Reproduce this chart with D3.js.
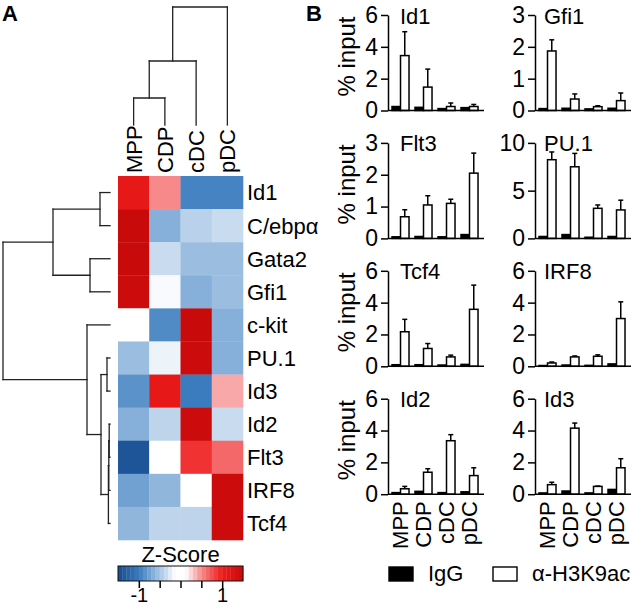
<!DOCTYPE html>
<html>
<head>
<meta charset="utf-8">
<script src="https://cdn.jsdelivr.net/npm/d3@7"></script>
<style>
  body { margin: 0; background: #fff; }
  svg { font-family: "Liberation Sans", Arial, sans-serif; }
</style>
</head>
<body>
<svg id="fig" width="633" height="608"></svg>
<script>
// ---- panel A data ----
const cells = ['MPP', 'CDP', 'cDC', 'pDC'];
const genes = ['Id1', 'C/ebpα', 'Gata2', 'Gfi1', 'c-kit', 'PU.1', 'Id3', 'Id2', 'Flt3', 'IRF8', 'Tcf4'];
const zscores = [
    [1.1, 0.5, -0.95, -0.95],
    [1.5, -0.65, -0.42, -0.35],
    [1.5, -0.35, -0.55, -0.55],
    [1.45, -0.15, -0.65, -0.55],
    [0, -0.9, 1.5, -0.65],
    [-0.55, -0.2, 1.45, -0.65],
    [-0.85, 1.1, -1.0, 0.4],
    [-0.65, -0.4, 1.45, -0.35],
    [-1.4, 0, 0.9, 0.65],
    [-0.75, -0.6, 0, 1.45],
    [-0.6, -0.4, -0.4, 1.45]
];
// dendrograms: h = merge height
const rowTree = {h: 107, children: [
    {h: 57, children: [
        {h: 10, children: [{name: 'Id1'}, {name: 'C/ebpα'}]},
        {h: 20, children: [{name: 'Gata2'}, {name: 'Gfi1'}]}
    ]},
    {h: 23, children: [
        {name: 'c-kit'},
        {h: 9, children: [
            {h: 3, children: [{name: 'PU.1'}, {name: 'Id3'}]},
            {h: 1.6, children: [
                {h: 1.2, children: [{h: 0.8, children: [{name: 'Id2'}, {name: 'Flt3'}]}, {name: 'IRF8'}]},
                {name: 'Tcf4'}
            ]}
        ]}
    ]}
]};
const colTree = {h: 118, children: [
    {h: 64, children: [
        {h: 27, children: [{name: 'MPP'}, {name: 'CDP'}]},
        {name: 'cDC'}
    ]},
    {name: 'pDC'}
]};
const colorStops = [-1.5, -1, -0.5, -0.12, 0.12, 0.5, 1, 1.5];
const colorRange = ['#174b8e', '#3b7cbe', '#a6c5e4', '#ffffff', '#ffffff', '#f7898a', '#ee1c1c', '#c80a0a'];
const colorTicks = [-1, -0.5, 0, 0.5, 1];
const colorTickLabels = ['-1', '', '', '', '1'];

// ---- panel B data ----
const panels = ['Id1', 'Gfi1', 'Flt3', 'PU.1', 'Tcf4', 'IRF8', 'Id2', 'Id3'];
const yMax = [6, 3, 3, 10, 6, 6, 6, 6];
const yTicks = [[0, 2, 4, 6], [0, 1, 2, 3], [0, 1, 2, 3], [0, 5, 10], [0, 2, 4, 6], [0, 2, 4, 6], [0, 2, 4, 6], [0, 2, 4, 6]];
const series = ['IgG', 'α-H3K9ac'];
const igg = [
    [0.25, 0.2, 0.12, 0.18],
    [0.06, 0.07, 0.05, 0.07],
    [0.05, 0.06, 0.05, 0.12],
    [0.2, 0.4, 0.12, 0.2],
    [0.1, 0.1, 0.08, 0.12],
    [0.05, 0.08, 0.06, 0.15],
    [0.1, 0.18, 0.1, 0.15],
    [0.08, 0.2, 0.08, 0.3]
];
const h3k9ac = [
    [3.45, 1.47, 0.25, 0.25],
    [1.87, 0.36, 0.12, 0.31],
    [0.68, 1.05, 1.1, 2.05],
    [8.24, 7.5, 3.15, 2.98],
    [2.17, 1.12, 0.59, 3.58],
    [0.21, 0.59, 0.63, 3.0],
    [0.34, 1.38, 3.36, 1.17],
    [0.6, 4.15, 0.49, 1.66]
];
const h3k9acErr = [
    [1.5, 1.13, 0.22, 0.13],
    [0.35, 0.16, 0.03, 0.24],
    [0.22, 0.29, 0.13, 0.63],
    [0.81, 1.4, 0.35, 1.02],
    [0.78, 0.31, 0.11, 1.52],
    [0.06, 0.06, 0.09, 1.05],
    [0.15, 0.22, 0.38, 0.49],
    [0.15, 0.32, 0.02, 0.57]
];

const svg = d3.select('#fig');

// panel letters
svg.append('text').attr('x', 2).attr('y', 21).attr('font-size', 22).attr('font-weight', 'bold').text('A');
svg.append('text').attr('x', 306).attr('y', 21).attr('font-size', 22).attr('font-weight', 'bold').text('B');

// ================= heatmap =================
const xCell = d3.scaleBand().domain(cells).range([118, 243]);
const yGene = d3.scaleBand().domain(genes).range([176, 540]);
const color = d3.scaleLinear().domain(colorStops).range(colorRange);

const heat = svg.append('g');
zscores.forEach((row, i) => {
    heat.selectAll(null)
        .data(row)
        .enter()
        .append('rect')
        .attr('x', (d, j) => xCell(cells[j]))
        .attr('y', yGene(genes[i]))
        .attr('width', xCell.bandwidth() + 0.3)
        .attr('height', yGene.bandwidth() + 0.3)
        .attr('fill', d => color(d));
});

heat.selectAll('.rowlab')
    .data(genes)
    .enter()
    .append('text')
    .attr('x', 247)
    .attr('y', d => yGene(d) + yGene.bandwidth() / 2)
    .attr('dy', '0.36em')
    .attr('font-size', 22)
    .text(d => d);

heat.selectAll('.collab')
    .data(cells)
    .enter()
    .append('text')
    .attr('transform', d => `translate(${xCell(d) + xCell.bandwidth() / 2}, 173) rotate(-90)`)
    .attr('dy', '0.36em')
    .attr('font-size', 22)
    .text(d => d);

// dendrograms
function drawTree(tree, leafPos, hScale, vertical) {
    const root = d3.hierarchy(tree);
    root.eachAfter(n => {
        if (!n.children) n.pos = leafPos(n.data.name);
        else n.pos = (n.children[0].pos + n.children[n.children.length - 1].pos) / 2;
        n.hh = n.children ? n.data.h : 0;
    });
    const segs = [];
    root.each(n => {
        if (!n.children) return;
        const a = n.children[0].pos, b = n.children[n.children.length - 1].pos;
        segs.push([hScale(n.hh), a, hScale(n.hh), b]);
        n.children.forEach(c => segs.push([hScale(n.hh), c.pos, hScale(c.hh), c.pos]));
    });
    svg.append('g').selectAll('line')
        .data(segs)
        .enter()
        .append('line')
        .attr('x1', d => vertical ? d[1] : d[0])
        .attr('y1', d => vertical ? d[0] : d[1])
        .attr('x2', d => vertical ? d[3] : d[2])
        .attr('y2', d => vertical ? d[2] : d[3])
        .attr('stroke', '#222')
        .attr('stroke-width', 1.3)
        .attr('stroke-linecap', 'square');
}
drawTree(rowTree, g => yGene(g) + yGene.bandwidth() / 2, d3.scaleLinear().domain([0, 107]).range([110, 3]), false);
drawTree(colTree, c => xCell(c) + xCell.bandwidth() / 2, d3.scaleLinear().domain([0, 118]).range([125, 7]), true);

// colour key
const xKey = d3.scaleLinear().domain([-1.5, 1.5]).range([118, 243]);
const steps = d3.range(30).map(i => -1.5 + i * 0.1);
const key = svg.append('g');
key.selectAll('rect')
    .data(steps)
    .enter()
    .append('rect')
    .attr('x', d => xKey(d))
    .attr('y', 566)
    .attr('width', xKey(0.1) - xKey(0) + 0.3)
    .attr('height', 15)
    .attr('fill', d => color(d + 0.05));
key.append('rect')
    .attr('x', 118).attr('y', 566).attr('width', 125).attr('height', 15)
    .attr('fill', 'none').attr('stroke', '#111').attr('stroke-width', 1);
key.append('g')
    .attr('transform', 'translate(0, 581)')
    .call(d3.axisBottom(xKey).tickValues(colorTicks).tickFormat((d, i) => colorTickLabels[i]).tickSize(7).tickPadding(0))
    .call(g => g.select('.domain').remove())
    .call(g => g.selectAll('line').attr('stroke-width', 1.5))
    .call(g => g.selectAll('text').attr('font-size', 20).attr('font-family', null));
key.append('text')
    .attr('x', 180.5).attr('y', 562)
    .attr('text-anchor', 'middle')
    .attr('font-size', 22)
    .text('Z-Score');

// ================= bar panels =================
const xGroup = d3.scaleBand().domain(cells).range([4, 96]).paddingInner(0.26).paddingOuter(0.13).align(0);
const xSub = d3.scaleBand().domain(series).range([0, xGroup.bandwidth()]);

panels.forEach((name, i) => {
    const col = i % 2, row = Math.floor(i / 2);
    const x0 = col ? 535 : 388;
    const base = 110.5 + row * 127.9;
    const y = d3.scaleLinear().domain([0, yMax[i]]).range([base, base - 95.5]);
    const g = svg.append('g').attr('transform', `translate(${x0}, 0)`);

    const bars = g.append('g');
    cells.forEach((c, j) => {
        const vals = [igg[i][j], h3k9ac[i][j]];
        vals.forEach((v, k) => {
            bars.append('rect')
                .attr('x', xGroup(c) + xSub(series[k]))
                .attr('y', y(v))
                .attr('width', xSub.bandwidth())
                .attr('height', base - y(v))
                .attr('fill', k === 0 ? '#000' : '#fff')
                .attr('stroke', '#000')
                .attr('stroke-width', 1.5);
        });
        const cx = xGroup(c) + xSub(series[1]) + xSub.bandwidth() / 2;
        const top = h3k9ac[i][j] + h3k9acErr[i][j];
        bars.append('line')
            .attr('x1', cx).attr('x2', cx)
            .attr('y1', y(h3k9ac[i][j])).attr('y2', y(top))
            .attr('stroke', '#000').attr('stroke-width', 1.5);
        bars.append('line')
            .attr('x1', cx - 2.5).attr('x2', cx + 2.5)
            .attr('y1', y(top)).attr('y2', y(top))
            .attr('stroke', '#000').attr('stroke-width', 1.5);
    });

    g.append('g')
        .call(d3.axisLeft(y).tickValues(yTicks[i]).tickFormat(d3.format('d')).tickSize(7).tickSizeOuter(0).tickPadding(3))
        .call(a => a.selectAll('line, path').attr('stroke-width', 1.5))
        .call(a => a.selectAll('text').attr('font-size', 23).attr('font-family', null));

    g.append('line')
        .attr('x1', 0).attr('x2', 96)
        .attr('y1', base).attr('y2', base)
        .attr('stroke', '#000').attr('stroke-width', 1.5);

    g.append('text')
        .attr('x', col ? 9 : 12)
        .attr('y', base - 87)
        .attr('font-size', 22)
        .text(name);

    if (col === 0) {
        g.append('text')
            .attr('transform', `translate(-33, ${base - 54}) rotate(-90)`)
            .attr('text-anchor', 'middle')
            .attr('font-size', 24)
            .text('% input');
    }
    if (row === 3) {
        g.selectAll('.xlab')
            .data(cells)
            .enter()
            .append('text')
            .attr('transform', d => `translate(${xGroup(d) + xGroup.bandwidth() / 2}, ${base + 7}) rotate(-90)`)
            .attr('text-anchor', 'end')
            .attr('dy', '0.36em')
            .attr('font-size', 22)
            .text(d => d);
    }
});

// legend
const legend = svg.append('g');
const legX = [389, 493];
series.forEach((s, k) => {
    legend.append('rect')
        .attr('x', legX[k]).attr('y', 567)
        .attr('width', 24).attr('height', 14)
        .attr('fill', k === 0 ? '#000' : '#fff')
        .attr('stroke', '#000').attr('stroke-width', 1.4);
    legend.append('text')
        .attr('x', legX[k] + 39).attr('y', 581)
        .attr('font-size', 22)
        .text(s);
});
</script>
</body>
</html>
